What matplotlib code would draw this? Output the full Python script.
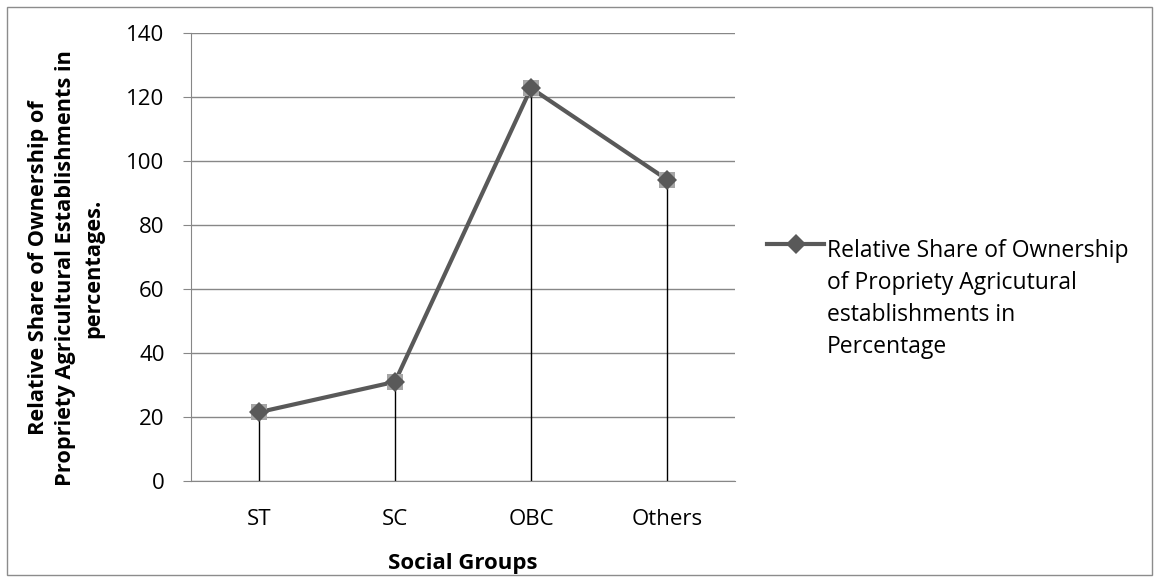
import matplotlib
matplotlib.use('Agg')
import matplotlib.pyplot as plt
from matplotlib.lines import Line2D
from matplotlib.patches import Rectangle

groups = ['ST', 'SC', 'OBC', 'Others']
share = [21.5, 31.0, 122.8, 94.2]
yticks = [0, 20, 40, 60, 80, 100, 120, 140]

series_label = ('Relative Share of Ownership\nof Propriety Agricutural\n'
                'establishments in\nPercentage')
ylabel = ('Relative Share of Ownership of\nPropriety Agricultural Establishments in\n'
          'percentages.')

plt.rcParams['font.family'] = ['Open Sans', 'DejaVu Sans']

W, H = 1160, 582
fig = plt.figure(figsize=(W / 100, H / 100), dpi=100)
fig.patches.append(Rectangle((7 / W, 7 / H), 1145 / W, 568 / H,
                             transform=fig.transFigure, fill=False,
                             edgecolor='#8c8c8c', linewidth=1))
ax = fig.add_axes([191 / W, 1 - 481 / H, 544 / W, 448 / H])

x = list(range(len(groups)))
ax.vlines(x, 0, share, color='black', linewidth=1, zorder=2)
ax.plot(x, share, color='#595959', linewidth=3, zorder=3)
ax.plot(x, share, linestyle='none', marker='s', markersize=12,
        color='#a6a6a6', markeredgewidth=0, zorder=4)
ax.plot(x, share, linestyle='none', marker='D', markersize=10,
        color='#595959', markeredgewidth=0, zorder=5)

ax.set_xlim(-0.5, len(groups) - 0.5)
ax.set_ylim(0, 140)
ax.set_yticks(yticks)
ax.set_xticks(x)
ax.set_xticklabels(groups)
ax.yaxis.grid(True, color='#878787', linewidth=1)
ax.set_axisbelow(True)
for side in ['top', 'right']:
    ax.spines[side].set_visible(False)
ax.spines['left'].set_color('#878787')
ax.spines['bottom'].set_color('#878787')
ax.tick_params(axis='y', length=6, color='#878787', labelsize=16, pad=13)
ax.tick_params(axis='x', length=0, labelsize=16, pad=20)

ax.set_xlabel('Social Groups', fontsize=16, fontweight='bold', labelpad=17)
ax.set_ylabel(ylabel, fontsize=15.7, fontweight='bold', linespacing=1.4)
ax.yaxis.label.set_verticalalignment('center')
ax.yaxis.set_label_coords((66 - 191) / 544, (481 - 268) / 448)

# legend key only; the wrapped series name is set beside it
handle = Line2D([], [], color='#595959', linewidth=3, marker='D',
                markersize=10, markerfacecolor='#595959', markeredgewidth=0)
fig.legend([handle], [''], loc='center left',
           bbox_to_anchor=(767 / W, 1 - 246 / H), frameon=False, fontsize=16.5,
           handlelength=2.5, handletextpad=0, borderpad=0, borderaxespad=0)
fig.text(827 / W, 1 - 239 / H, series_label, fontsize=16.5, va='top',
         ha='left', linespacing=1.44)

fig.savefig('out.png', dpi=100)
